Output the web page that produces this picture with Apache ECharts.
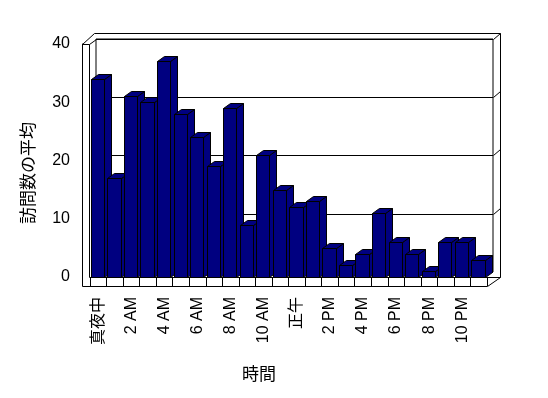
<!DOCTYPE html>
<html lang="ja">
<head>
    <meta charset="UTF-8">
    <title>時間別の訪問数の平均</title>
    <style>
        html, body { margin: 0; padding: 0; background: #fff; }
        #container { width: 548px; height: 398px; }
    </style>
</head>
<body>
    <div id="container"></div>
    <script src="https://cdn.jsdelivr.net/npm/echarts@6/dist/echarts.min.js"></script>
    <script>
        // 時間（横軸）
        var hours = ['真夜中', '1 AM', '2 AM', '3 AM', '4 AM', '5 AM', '6 AM', '7 AM',
            '8 AM', '9 AM', '10 AM', '11 AM', '正午', '1 PM', '2 PM', '3 PM',
            '4 PM', '5 PM', '6 PM', '7 PM', '8 PM', '9 PM', '10 PM', '11 PM'];
        // 訪問数の平均
        var visits = [34, 17, 31, 30, 37, 28, 24, 19, 29, 9, 21, 15,
            12, 13, 5, 2, 4, 11, 6, 4, 1, 6, 6, 3];
        var yTicks = [0, 10, 20, 30, 40];

        var FONT = '"Liberation Sans", "Noto Sans CJK JP", sans-serif';
        var BAR = '#000080';
        var DX = 7, DY = 5;

        function px(v) { return Math.round(v) + 0.5; }

        function renderBar(params, api) {
            var top = api.coord([api.value(0), api.value(1)]);
            var bot = api.coord([api.value(0), 0]);
            var bw = api.size([1, 0])[0];
            var x0 = px(top[0] - bw * 0.45);
            var x1 = px(top[0] - bw * 0.45 + bw * 0.8);
            var y0 = px(top[1]), y1 = px(bot[1]);
            var st = { fill: BAR, stroke: '#000', lineWidth: 1 };
            return {
                type: 'group',
                children: [
                    { type: 'polygon', shape: { points: [[x1, y0], [x1 + DX, y0 - DY], [x1 + DX, y1 - DY], [x1, y1]] }, style: st },
                    { type: 'polygon', shape: { points: [[x0, y0], [x0 + DX, y0 - DY], [x1 + DX, y0 - DY], [x1, y0]] }, style: st },
                    { type: 'polygon', shape: { points: [[x0, y0], [x1, y0], [x1, y1], [x0, y1]] }, style: st }
                ]
            };
        }

        var myChart = echarts.init(document.getElementById('container'));

        // 枠の線（奥の壁・床・左の壁）
        var ln = { stroke: '#000', lineWidth: 1, fill: null };
        function seg(pts) {
            return { type: 'polyline', silent: true, z: 5, shape: { points: pts.map(function (p) { return [px(p[0]), px(p[1])]; }) }, style: ln };
        }
        var frame = [
            seg([[82, 286], [82, 44], [94, 33], [500, 33], [500, 277], [487, 286], [82, 286]]),
            seg([[82, 44], [89, 44], [89, 277]]),
            seg([[89, 44], [96, 39]]),
            seg([[493, 39], [500, 33]]),
            seg([[493, 97], [500, 91]]),
            seg([[493, 155], [500, 149]]),
            seg([[493, 214], [500, 208]]),
            seg([[487, 277], [500, 277]])
        ];

        var option = {
            animation: false,
            backgroundColor: '#fff',
            grid: [
                { left: 90, right: 61, top: 44, bottom: 121 },
                { left: 96, right: 55, top: 39, bottom: 126, show: true, borderColor: '#000', borderWidth: 1, z: 0 }
            ],
            xAxis: [{
                type: 'category',
                data: hours,
                gridIndex: 0,
                boundaryGap: true,
                axisLine: { show: true, lineStyle: { color: '#000', width: 1 } },
                axisTick: { show: true, interval: 0, length: 9, lineStyle: { color: '#000' } },
                axisLabel: { interval: 1, rotate: 90, margin: 20, color: '#000', fontSize: 16, fontFamily: FONT }
            }, {
                type: 'category',
                data: hours,
                gridIndex: 1,
                show: false
            }],
            yAxis: [{
                type: 'value',
                gridIndex: 0,
                min: 0, max: 40, interval: 10,
                offset: 8,
                axisLine: { show: true, lineStyle: { color: '#000', width: 1 } },
                axisTick: { show: false },
                splitLine: { show: false },
                axisLabel: { margin: 12, color: '#000', fontSize: 16, fontFamily: FONT }
            }, {
                type: 'value',
                gridIndex: 1,
                min: 0, max: 40, interval: 10,
                axisLine: { show: false },
                axisTick: { show: false },
                axisLabel: { show: false },
                splitLine: { show: true, lineStyle: { color: '#000', width: 1 } }
            }],
            series: [{
                type: 'custom',
                xAxisIndex: 0,
                yAxisIndex: 0,
                renderItem: renderBar,
                z: 3,
                data: visits.map(function (v, i) { return [i, v]; })
            }],
            graphic: frame.concat([{
                type: 'text',
                x: 29, y: 173,
                rotation: Math.PI / 2,
                style: { text: '訪問数の平均', fontSize: 17, fontFamily: FONT, fill: '#000', align: 'center', verticalAlign: 'middle' }
            }, {
                type: 'text',
                x: 259, y: 375,
                style: { text: '時間', fontSize: 17, fontFamily: FONT, fill: '#000', align: 'center', verticalAlign: 'middle' }
            }])
        };

        myChart.setOption(option);
    </script>
</body>
</html>
